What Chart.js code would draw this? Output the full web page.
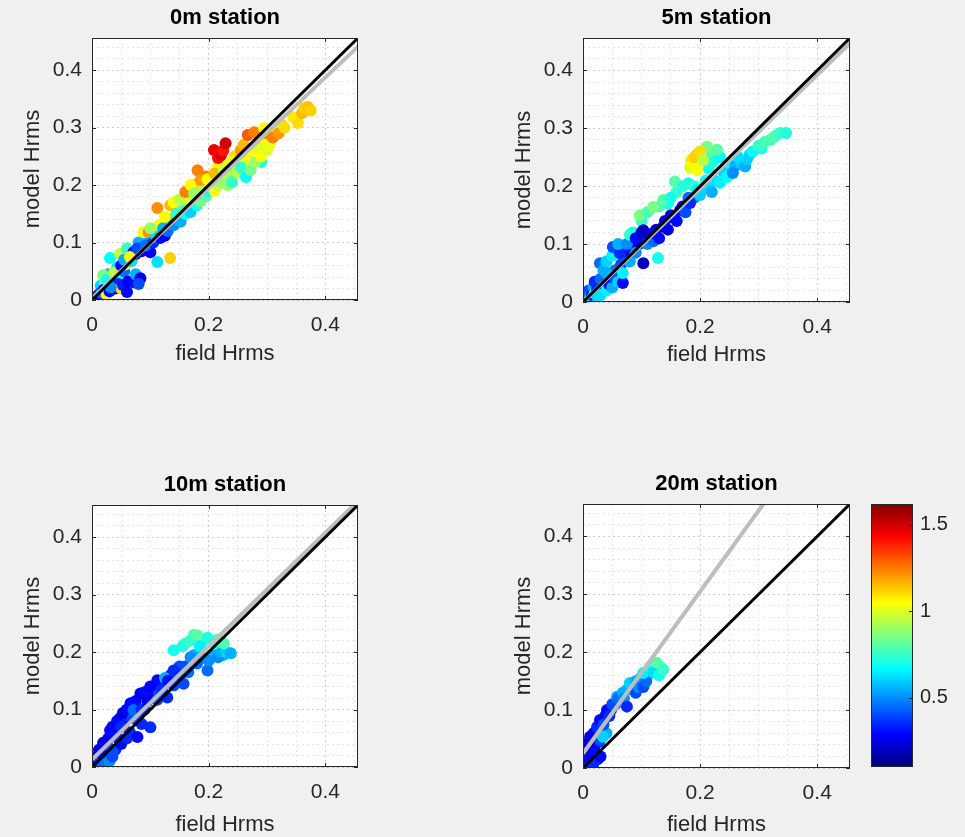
<!DOCTYPE html>
<html><head><meta charset="utf-8">
<script src="https://cdn.jsdelivr.net/npm/chart.js@4.4.1/dist/chart.umd.min.js"></script>
<style>
html,body{margin:0;padding:0;background:#f0f0f0;overflow:hidden;width:965px;height:837px;}
canvas{position:absolute;}
</style></head><body>
<canvas id="c0"></canvas>
<canvas id="c1"></canvas>
<canvas id="c2"></canvas>
<canvas id="c3"></canvas>
<canvas id="cb"></canvas>
<script>
// ---------- axis / tick definitions ----------
const AX_MAX = 0.456;
const xMajorTicks = [0, 0.2, 0.4];
const yMajorTicks = [0, 0.1, 0.2, 0.3, 0.4];
const xMinorStep = 0.05;
const yMinorStep = 0.02;
const cbMin = 0.098, cbMax = 1.62;
const cbTicks = [0.5, 1, 1.5];
const stationTitles = ['0m station', '5m station', '10m station', '20m station'];
const xLabel = 'field Hrms';
const yLabel = 'model Hrms';
const oneToOneX = [0, AX_MAX];
const oneToOneY = [0, AX_MAX];

// ---------- 0m station ----------
const field0 = [0.015,0.022,0.028,0.045,0.055,0.058,0.068,0.075,0.085,0.095,0.105,0.115,0.120,0.135,0.145,0.155,0.165,0.175,0.190,0.195,0.205,0.215,0.230,0.235,0.245,0.255,0.262,0.275,0.285,0.295,0.300,0.315,0.290,0.325,0.345,
  0.004,0.008,0.012,0.016,0.020,0.025,0.030,0.035,0.040,0.045,0.050,0.053,0.060,0.062,0.071,0.075,0.083,0.080,0.032,0.019,0.025,0.031,0.043,0.038,0.050,0.048,0.055,0.060,0.071,0.065,0.080,0.078,0.088,0.097,0.100,0.092,0.105,0.110,0.117,0.125,0.112,0.134,0.100,0.112,0.122,0.125,0.130,0.134,0.140,0.140,0.145,0.152,0.150,0.160,0.160,0.169,0.169,0.175,0.180,0.181,0.186,0.186,0.195,0.198,0.200,0.210,0.210,0.216,0.220,0.226,0.233,0.238,0.240,0.240,0.250,0.250,0.255,0.264,0.260,0.267,0.272,0.280,0.284,0.290,0.300,0.305,0.267,0.278,0.295,0.310,0.321,0.320,0.330,0.209,0.216,0.221,0.225,0.229,0.353,0.360,0.364,0.370,0.375];
const model0 = [0.025,0.028,0.045,0.045,0.050,0.062,0.068,0.080,0.085,0.105,0.115,0.130,0.115,0.140,0.165,0.160,0.175,0.200,0.195,0.215,0.205,0.230,0.235,0.225,0.250,0.260,0.240,0.262,0.275,0.280,0.290,0.295,0.240,0.305,0.318,
  0.004,0.006,0.010,0.013,0.018,0.010,0.015,0.030,0.020,0.028,0.020,0.026,0.014,0.032,0.031,0.045,0.038,0.028,0.022,0.043,0.035,0.073,0.056,0.048,0.060,0.080,0.070,0.090,0.083,0.075,0.100,0.090,0.118,0.118,0.083,0.095,0.100,0.110,0.108,0.112,0.066,0.073,0.125,0.160,0.125,0.145,0.120,0.165,0.130,0.170,0.150,0.136,0.175,0.188,0.150,0.153,0.200,0.185,0.165,0.226,0.209,0.172,0.180,0.210,0.190,0.220,0.190,0.200,0.205,0.223,0.200,0.212,0.205,0.240,0.240,0.222,0.230,0.214,0.270,0.252,0.226,0.240,0.264,0.250,0.260,0.272,0.287,0.292,0.299,0.283,0.301,0.290,0.300,0.261,0.247,0.252,0.260,0.273,0.308,0.325,0.334,0.336,0.330];
const cval0 = [0.60,0.85,0.55,0.67,0.45,0.95,0.62,0.30,0.25,0.55,0.95,1.05,0.60,0.62,1.10,0.80,1.00,1.15,0.95,1.24,0.90,1.05,1.00,0.85,1.10,1.20,0.95,1.05,1.15,1.05,1.24,1.05,0.72,1.12,1.08,
  0.30,0.35,0.28,0.45,0.32,1.05,0.30,0.95,0.28,0.35,1.10,0.33,0.30,0.28,0.30,0.55,0.25,0.40,0.50,0.86,0.70,0.67,0.62,0.95,0.30,0.95,0.55,0.75,0.30,1.05,0.55,0.40,1.05,1.22,0.26,0.45,0.35,0.62,0.30,0.25,0.62,1.12,0.90,1.22,0.55,1.05,0.45,1.15,0.50,1.05,0.75,0.55,0.95,1.24,0.67,0.60,1.05,0.90,0.70,1.24,1.20,0.85,0.80,1.05,0.67,1.15,1.05,0.95,0.90,0.95,0.90,0.90,0.75,1.05,1.00,0.95,0.75,0.67,1.15,1.05,0.85,0.90,1.00,1.05,1.00,1.02,1.30,1.24,1.05,1.24,0.95,1.20,1.10,1.45,1.42,1.48,1.40,1.50,1.10,1.15,1.12,1.14,1.12];
const fitX0 = [0, 0.456];
const fitY0 = [0.003, 0.441];

// ---------- 5m station ----------
const field5 = [0.010,0.018,0.035,0.040,0.055,0.065,0.070,0.085,0.095,0.085,0.100,0.105,0.115,0.125,0.130,0.140,0.150,0.145,0.160,0.170,0.180,0.180,0.190,0.205,0.225,0.240,0.250,0.260,0.285,0.305,0.320,0.330,0.195,0.185,0.220,
  0.004,0.008,0.012,0.015,0.020,0.024,0.025,0.030,0.020,0.030,0.029,0.035,0.040,0.041,0.045,0.050,0.055,0.040,0.050,0.051,0.060,0.063,0.060,0.068,0.068,0.075,0.080,0.080,0.090,0.090,0.097,0.100,0.103,0.103,0.110,0.110,0.120,0.120,0.120,0.128,0.130,0.137,0.137,0.145,0.150,0.154,0.157,0.160,0.166,0.170,0.175,0.183,0.190,0.195,0.200,0.210,0.212,0.220,0.234,0.246,0.256,0.270,0.277,0.280,0.265,0.290,0.300,0.311,0.325,0.337,0.347,0.215,0.222,0.234,0.229,0.212,0.183,0.195,0.188,0.190,0.200,0.205];
const model5 = [0.020,0.025,0.025,0.040,0.055,0.065,0.085,0.095,0.100,0.120,0.140,0.110,0.115,0.125,0.165,0.140,0.150,0.170,0.190,0.165,0.180,0.205,0.180,0.195,0.210,0.225,0.240,0.235,0.255,0.265,0.280,0.288,0.255,0.245,0.255,
  0.004,0.008,0.006,0.012,0.015,0.021,0.008,0.012,0.035,0.040,0.067,0.055,0.020,0.050,0.030,0.025,0.040,0.070,0.080,0.095,0.035,0.084,0.100,0.033,0.050,0.100,0.070,0.116,0.085,0.110,0.150,0.120,0.124,0.067,0.100,0.155,0.105,0.119,0.164,0.076,0.110,0.130,0.176,0.125,0.180,0.147,0.208,0.140,0.159,0.200,0.155,0.171,0.200,0.194,0.185,0.210,0.199,0.190,0.206,0.216,0.223,0.240,0.234,0.246,0.250,0.260,0.270,0.277,0.284,0.292,0.292,0.230,0.242,0.250,0.263,0.268,0.232,0.228,0.240,0.250,0.260,0.245];
const cval5 = [0.40,0.55,0.62,0.30,0.45,0.40,0.30,0.25,0.20,0.70,0.75,0.25,0.22,0.20,0.78,0.25,0.22,0.70,0.75,0.30,0.45,0.70,0.50,0.55,0.62,0.60,0.65,0.55,0.62,0.70,0.75,0.78,1.15,1.08,0.82,
  0.30,0.45,0.62,0.35,0.67,0.35,0.60,0.62,0.35,0.45,0.45,0.55,0.65,0.55,0.30,0.55,0.40,0.60,0.65,0.40,0.60,0.35,0.55,0.30,0.65,0.50,0.55,0.75,0.50,0.30,0.86,0.22,0.20,0.20,0.50,0.78,0.45,0.25,0.85,0.70,0.30,0.20,0.80,0.25,0.70,0.28,0.80,0.30,0.30,0.72,0.40,0.35,0.75,0.65,0.60,0.70,0.62,0.55,0.65,0.67,0.50,0.60,0.55,0.60,0.62,0.67,0.75,0.78,0.78,0.75,0.72,0.70,0.72,0.67,0.80,0.85,1.00,1.05,1.05,1.12,1.10,0.95];
const fitX5 = [0, 0.456];
const fitY5 = [0.0, 0.447];

// ---------- 10m station ----------
const field10 = [0.008,0.012,0.025,0.028,0.035,0.045,0.048,0.055,0.058,0.065,0.075,0.080,0.090,0.095,0.105,0.108,0.115,0.120,0.135,0.145,0.150,0.165,0.170,0.175,0.190,0.205,0.225,0.160,0.175,0.190,0.215,0.065,0.040,0.085,
  0.004,0.010,0.015,0.020,0.020,0.030,0.035,0.019,0.031,0.035,0.040,0.043,0.050,0.050,0.053,0.060,0.060,0.066,0.070,0.071,0.078,0.083,0.085,0.090,0.095,0.100,0.100,0.112,0.112,0.120,0.125,0.129,0.130,0.140,0.140,0.150,0.157,0.160,0.169,0.180,0.198,0.200,0.216,0.220,0.230,0.238,0.140,0.155,0.169,0.181,0.185,0.198,0.210,0.226];
const model10 = [0.018,0.030,0.040,0.050,0.070,0.050,0.085,0.075,0.090,0.095,0.115,0.090,0.100,0.130,0.125,0.140,0.130,0.150,0.160,0.150,0.175,0.165,0.180,0.195,0.190,0.195,0.195,0.215,0.230,0.220,0.222,0.060,0.030,0.075,
  0.004,0.012,0.010,0.020,0.005,0.010,0.018,0.042,0.064,0.030,0.060,0.080,0.040,0.070,0.094,0.050,0.100,0.111,0.085,0.099,0.052,0.128,0.100,0.130,0.115,0.069,0.140,0.117,0.151,0.135,0.155,0.121,0.150,0.142,0.168,0.160,0.145,0.175,0.191,0.180,0.168,0.185,0.191,0.200,0.200,0.198,0.203,0.210,0.220,0.229,0.210,0.225,0.215,0.215];
const cval10 = [0.30,0.25,0.30,0.28,0.30,0.35,0.25,0.30,0.35,0.30,0.30,0.40,0.35,0.35,0.30,0.30,0.40,0.28,0.35,0.40,0.40,0.45,0.45,0.55,0.50,0.55,0.55,0.75,0.78,0.70,0.78,0.35,0.35,0.35,
  0.35,0.30,0.40,0.30,0.45,0.50,0.40,0.25,0.30,0.40,0.30,0.30,0.30,0.35,0.25,0.35,0.30,0.30,0.40,0.45,0.30,0.25,0.35,0.30,0.25,0.35,0.28,0.40,0.30,0.35,0.55,0.35,0.30,0.40,0.35,0.35,0.40,0.40,0.50,0.45,0.45,0.50,0.50,0.55,0.60,0.55,0.70,0.72,0.75,0.80,0.65,0.72,0.70,0.78];
const fitX10 = [0, 0.449];
const fitY10 = [0.013, 0.456];

// ---------- 20m station ----------
const field20 = [0.008,0.015,0.018,0.022,0.030,0.038,0.048,0.055,0.065,0.075,0.085,0.090,0.098,0.110,0.118,0.132,0.040,0.028,
  0.003,0.005,0.007,0.012,0.017,0.015,0.020,0.025,0.030,0.010,0.012,0.024,0.034,0.029,0.035,0.041,0.045,0.050,0.058,0.060,0.068,0.070,0.075,0.080,0.090,0.095,0.103,0.108,0.103,0.115,0.120,0.130,0.126,0.137];
const model20 = [0.030,0.045,0.060,0.050,0.065,0.090,0.100,0.110,0.125,0.135,0.140,0.130,0.155,0.160,0.172,0.175,0.060,0.045,
  0.005,0.012,0.019,0.010,0.005,0.020,0.030,0.015,0.020,0.044,0.054,0.071,0.054,0.083,0.075,0.100,0.090,0.110,0.123,0.120,0.130,0.120,0.106,0.147,0.150,0.140,0.140,0.150,0.164,0.175,0.165,0.160,0.182,0.170];
const cval20 = [0.25,0.30,0.30,0.35,0.35,0.30,0.35,0.40,0.50,0.55,0.50,0.40,0.60,0.55,0.70,0.80,0.55,0.40,
  0.20,0.30,0.30,0.30,0.35,0.25,0.30,0.35,0.30,0.20,0.25,0.35,0.60,0.30,0.40,0.30,0.35,0.40,0.55,0.45,0.55,0.50,0.35,0.60,0.55,0.50,0.40,0.45,0.65,0.72,0.62,0.70,0.80,0.75];
const fitX20 = [0, 0.308];
const fitY20 = [0.025, 0.456];

// ---------- helpers ----------
const FONT = "'Liberation Sans', Arial, Helvetica, sans-serif";
Chart.defaults.font.family = FONT;
Chart.defaults.color = '#262626';

function jet(t) {
  t = Math.max(0, Math.min(1, t));
  const f = v => Math.round(255 * Math.max(0, Math.min(1, v)));
  return 'rgb(' + f(Math.min(4*t-1.5, -4*t+4.5)) + ',' + f(Math.min(4*t-0.5, -4*t+3.5)) + ',' + f(Math.min(4*t+0.5, -4*t+2.5)) + ')';
}
function isMajor(v, arr) { return arr.some(a => Math.abs(a - v) < 1e-9); }
function fmt(v) { return String(Math.round(v * 1000) / 1000); }
function gridValues(step) {
  const out = [];
  for (let i = 0; i * step <= AX_MAX + 1e-9; i++) out.push(Math.round(i * step * 1000) / 1000);
  return out;
}

const axesPlugin = {
  id: 'axesBox',
  beforeDraw(chart) {
    const {ctx, chartArea: a} = chart;
    ctx.save();
    ctx.fillStyle = '#ffffff';
    ctx.fillRect(a.left, a.top, a.right - a.left, a.bottom - a.top);
    ctx.restore();
  },
  afterDatasetsDraw(chart) {
    const {ctx, chartArea: a, scales} = chart;
    ctx.save();
    ctx.strokeStyle = '#262626';
    ctx.lineWidth = 1;
    ctx.strokeRect(a.left + 0.5, a.top + 0.5, a.right - a.left - 1, a.bottom - a.top - 1);
    const tl = 4;
    ctx.beginPath();
    xMajorTicks.forEach(v => {
      const px = Math.round(scales.x.getPixelForValue(v)) + 0.5;
      ctx.moveTo(px, a.bottom); ctx.lineTo(px, a.bottom - tl);
      ctx.moveTo(px, a.top); ctx.lineTo(px, a.top + tl);
    });
    yMajorTicks.forEach(v => {
      const py = Math.round(scales.y.getPixelForValue(v)) + 0.5;
      ctx.moveTo(a.left, py); ctx.lineTo(a.left + tl, py);
      ctx.moveTo(a.right, py); ctx.lineTo(a.right - tl, py);
    });
    ctx.stroke();
    ctx.restore();
  }
};

const layouts = [
  {left: 0,   l: 92,  r: 358, t: 38,  b: 300, gap: 54.4},
  {left: 491, l: 583, r: 850, t: 38,  b: 302, gap: 53},
  {left: 0,   l: 92,  r: 358, t: 505, b: 767, gap: 57.5},
  {left: 491, l: 583, r: 850, t: 504, b: 768, gap: 56.5}
];

function subplot(id, pos, title, xs, ys, cs, fx, fy) {
  const cv = document.getElementById(id);
  const W = 380, H = 380;
  const top = pos.t - 38;
  cv.width = W; cv.height = H;
  cv.style.left = pos.left + 'px'; cv.style.top = top + 'px';
  const yAxisW = pos.l - pos.left;
  const padRight = W - (pos.r - pos.left);
  const xAxisH = H - (pos.b - top);
  const gridColor = majors => c => (c.tick && isMajor(c.tick.value, majors)) ? 'rgba(38,38,38,0.22)' : 'rgba(38,38,38,0.12)';
  return new Chart(cv, {
    type: 'scatter',
    data: {
      datasets: [
        {data: oneToOneX.map((x, i) => ({x, y: oneToOneY[i]})), showLine: true, borderColor: '#000000', borderWidth: 3, pointRadius: 0, order: 0},
        {data: fx.map((x, i) => ({x, y: fy[i]})), showLine: true, borderColor: '#bdbdbd', borderWidth: 4, pointRadius: 0, order: 1},
        {data: xs.map((x, i) => ({x, y: ys[i]})), pointBackgroundColor: cs.map(c => jet((c - cbMin) / (cbMax - cbMin))),
         pointRadius: 6, pointHoverRadius: 6, pointBorderWidth: 0, borderWidth: 0, showLine: false, order: 2}
      ]
    },
    options: {
      responsive: false, animation: false, devicePixelRatio: 1,
      layout: {padding: {left: 0, right: padRight, top: 0, bottom: 0}},
      plugins: {
        legend: {display: false}, tooltip: {enabled: false},
        title: {display: true, text: title, fullSize: false, color: '#000000',
                font: {size: 22, weight: 'bold', family: FONT, lineHeight: 1.2}, padding: {top: 5, bottom: 6.6}}
      },
      scales: {
        x: {
          type: 'linear', min: 0, max: AX_MAX,
          afterBuildTicks: s => { s.ticks = gridValues(xMinorStep).map(v => ({value: v})); },
          afterFit: s => { s.height = xAxisH; },
          ticks: {autoSkip: false, maxRotation: 0, padding: 13, color: '#262626', font: {size: 21},
                  callback: v => isMajor(v, xMajorTicks) ? fmt(v) : ''},
          grid: {drawTicks: false, color: gridColor(xMajorTicks), lineWidth: 1},
          border: {display: false, dash: [2, 3]},
          title: {display: true, text: xLabel, color: '#262626', font: {size: 22, lineHeight: 1.2},
                  padding: {top: 0, bottom: xAxisH - 13.2 - pos.gap}}
        },
        y: {
          type: 'linear', min: 0, max: AX_MAX,
          afterBuildTicks: s => { s.ticks = gridValues(yMinorStep).map(v => ({value: v})); },
          afterFit: s => { s.width = yAxisW; },
          ticks: {autoSkip: false, padding: 10, color: '#262626', font: {size: 21},
                  callback: v => isMajor(v, yMajorTicks) ? fmt(v) : ''},
          grid: {drawTicks: false, color: gridColor(yMajorTicks), lineWidth: 1},
          border: {display: false, dash: [2, 3]},
          title: {display: true, text: yLabel, color: '#262626', font: {size: 22, lineHeight: 1.2},
                  padding: {top: 19.8, bottom: 0}}
        }
      }
    },
    plugins: [axesPlugin]
  });
}

subplot('c0', layouts[0], stationTitles[0], field0, model0, cval0, fitX0, fitY0);
subplot('c1', layouts[1], stationTitles[1], field5, model5, cval5, fitX5, fitY5);
subplot('c2', layouts[2], stationTitles[2], field10, model10, cval10, fitX10, fitY10);
subplot('c3', layouts[3], stationTitles[3], field20, model20, cval20, fitX20, fitY20);

// ---------- colorbar ----------
const cbBox = {
  id: 'cbBox',
  afterDatasetsDraw(chart) {
    const {ctx, chartArea: a, scales} = chart;
    ctx.save();
    ctx.strokeStyle = '#262626';
    ctx.lineWidth = 1;
    ctx.strokeRect(a.left + 0.5, a.top + 0.5, a.right - a.left - 1, a.bottom - a.top - 1);
    ctx.beginPath();
    cbTicks.forEach(v => {
      const py = Math.round(scales.y.getPixelForValue(v)) + 0.5;
      ctx.moveTo(a.right, py); ctx.lineTo(a.right - 4, py);
    });
    ctx.stroke();
    ctx.restore();
  }
};
(function () {
  const cv = document.getElementById('cb');
  cv.width = 105; cv.height = 320;
  cv.style.left = '860px'; cv.style.top = '466px';
  new Chart(cv, {
    type: 'bar',
    data: {labels: [''], datasets: [{
      data: [[cbMin, cbMax]], borderWidth: 0, barPercentage: 1, categoryPercentage: 1,
      backgroundColor: c => {
        const a = c.chart.chartArea;
        if (!a) return '#000';
        const g = c.chart.ctx.createLinearGradient(0, a.bottom, 0, a.top);
        for (let i = 0; i <= 64; i++) g.addColorStop(i / 64, jet(i / 64));
        return g;
      }
    }]},
    options: {
      responsive: false, animation: false, devicePixelRatio: 1,
      layout: {padding: {left: 11, right: 0, top: 38, bottom: 18}},
      plugins: {legend: {display: false}, tooltip: {enabled: false}},
      scales: {
        x: {display: false},
        y: {position: 'right', min: cbMin, max: cbMax,
            afterBuildTicks: s => { s.ticks = cbTicks.map(v => ({value: v})); },
            afterFit: s => { s.width = 52; },
            ticks: {padding: 7, color: '#262626', font: {size: 20}, callback: v => fmt(v)},
            grid: {display: false, drawTicks: false}, border: {display: false}}
      }
    },
    plugins: [cbBox]
  });
})();
</script>
</body></html>
